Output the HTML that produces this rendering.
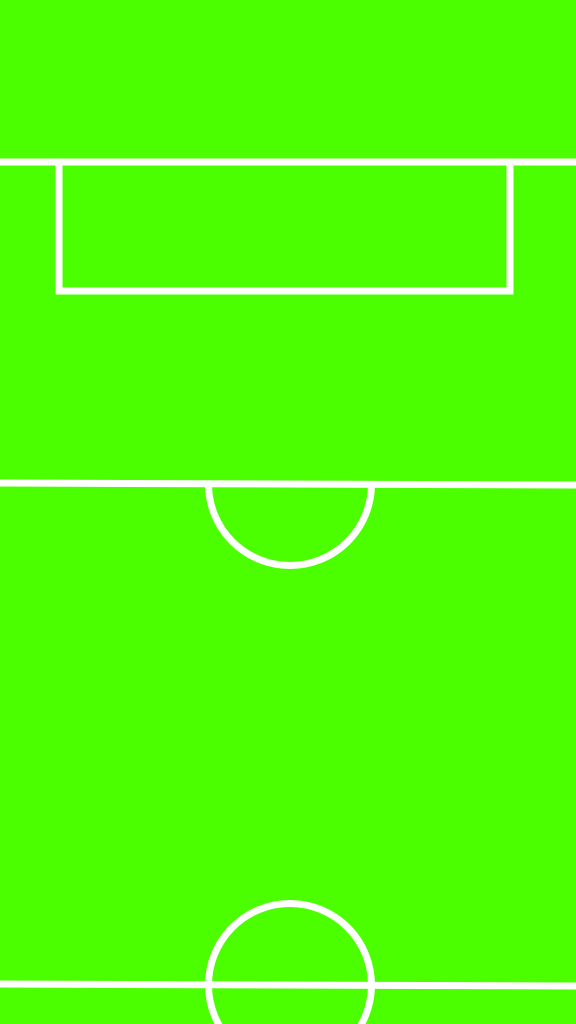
<!DOCTYPE html>
<html><head><meta charset="utf-8"><style>html,body{margin:0;padding:0;background:#4cff00;}svg{display:block}</style></head>
<body>
<svg width="576" height="1024" viewBox="0 0 576 1024" xmlns="http://www.w3.org/2000/svg">
<rect x="0" y="0" width="576" height="1024" fill="#4cff00"/>
<g fill="none" stroke="#ffffff" stroke-width="7">
<line x1="0" y1="162" x2="576" y2="162"/>
<rect x="59" y="162" width="451" height="129"/>
<line x1="0" y1="483" x2="576" y2="485"/>
<path d="M208.5 484 A81.5 81.5 0 0 0 371.5 484"/>
<line x1="0" y1="984" x2="576" y2="986"/>
<circle cx="290" cy="985" r="81.5"/>
</g>
</svg>
</body></html>
